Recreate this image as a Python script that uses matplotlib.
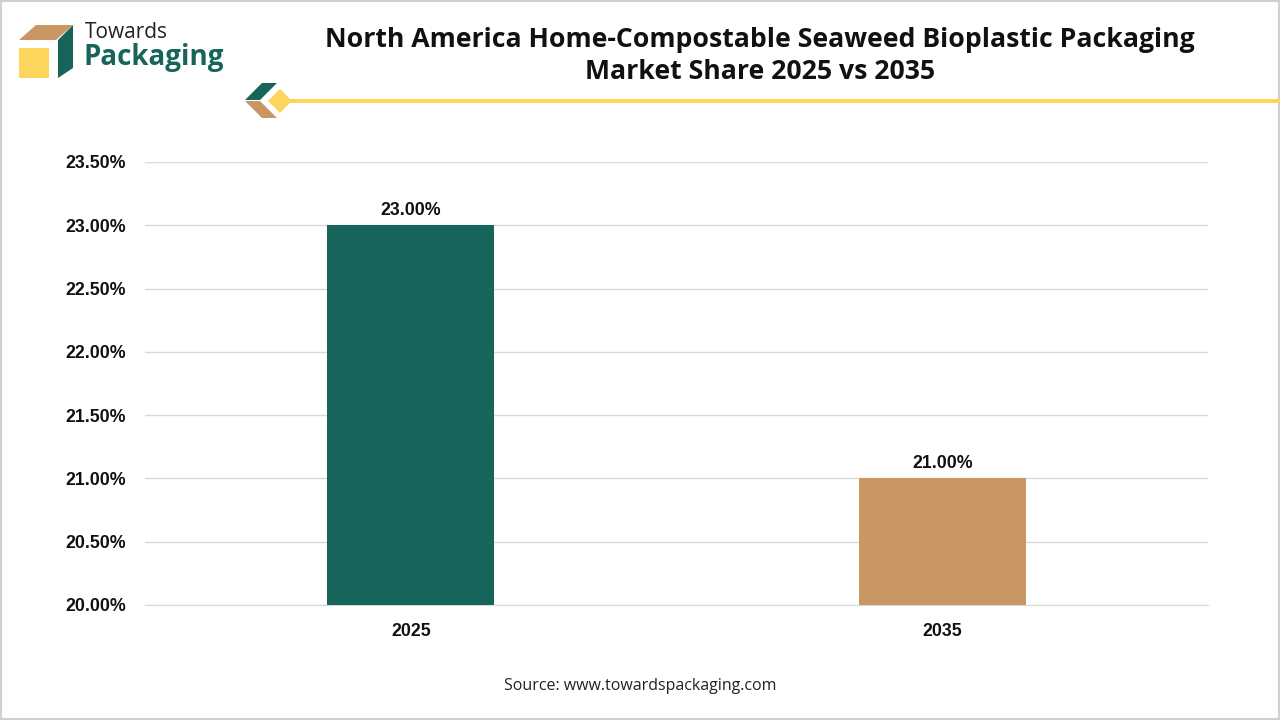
import matplotlib
matplotlib.use("Agg")
import matplotlib.pyplot as plt
from matplotlib.patches import Polygon, Rectangle
from matplotlib.ticker import FuncFormatter, MultipleLocator

categories = ["2025", "2035"]
values = [23.00, 21.00]
colors = ["#17655A", "#C89763"]
title = "North America Home-Compostable Seaweed Bioplastic Packaging\nMarket Share 2025 vs 2035"
source = "Source: www.towardspackaging.com"

W, H = 1280, 720
fig = plt.figure(figsize=(12.8, 7.2), dpi=100)
fig.patch.set_facecolor("white")

def fx(px):
    return px / W

def fy(py):
    return 1 - py / H

ax = fig.add_axes([fx(145), fy(605), fx(1208) - fx(145), fy(162) - fy(605)])
x = range(len(categories))
bars = ax.bar(x, values, width=0.314, color=colors, zorder=3)
ax.set_xlim(-0.5, 1.5)
ax.set_ylim(20.0, 23.5)
ax.yaxis.set_major_locator(MultipleLocator(0.5))
ax.yaxis.set_major_formatter(FuncFormatter(lambda v, p: f"{v:.2f}%"))
ax.set_xticks(list(x))
ax.set_xticklabels(categories)
ax.grid(axis="y", color="#D9D9D9", linewidth=1, zorder=0)
for s in ax.spines.values():
    s.set_visible(False)
ax.spines["bottom"].set_visible(True)
ax.spines["bottom"].set_color("#D9D9D9")
ax.tick_params(axis="both", length=0, labelsize=12.8)
ax.tick_params(axis="y", pad=13.5)
ax.tick_params(axis="x", pad=13)
for lab in ax.get_xticklabels() + ax.get_yticklabels():
    lab.set_fontfamily("Liberation Sans")
    lab.set_fontweight("bold")
    lab.set_color("#111111")
for b, v in zip(bars, values):
    ax.annotate(f"{v:.2f}%", (b.get_x() + b.get_width() / 2, v), xytext=(0, 4.5),
                textcoords="offset points", ha="center", va="bottom",
                fontsize=12.8, fontweight="bold", fontfamily="Liberation Sans", color="#111111")

# Title
fig.text(fx(760), fy(56), title, ha="center", va="center", fontsize=19.2,
         fontweight="bold", fontfamily="Open Sans", color="#111111", linespacing=1.3)

# Source
fig.text(0.5, fy(686), source, ha="center", va="center", fontsize=11.5,
         fontfamily="Open Sans", color="#222222")

# Border
fig.add_artist(Rectangle((fx(1), fy(719)), fx(1278), 1 - 2 / H, transform=fig.transFigure,
                         fill=False, edgecolor="#D0D0D0", linewidth=1.5))

# Logo
def poly(pts, color):
    fig.add_artist(Polygon([(fx(a), fy(b)) for a, b in pts], closed=True,
                           transform=fig.transFigure, facecolor=color, edgecolor="none"))

poly([(19, 48), (49, 48), (49, 78), (19, 78)], "#FDD45C")
poly([(19, 40), (36, 25), (73, 25), (56, 40)], "#C89763")
poly([(58, 40), (73, 25), (73, 68), (58, 78)], "#17655A")
fig.text(fx(85), fy(32), "Towards", ha="left", va="center", fontsize=15,
         fontfamily="Open Sans", color="#222222")
fig.text(fx(84), fy(58), "Packaging", ha="left", va="center", fontsize=20,
         fontweight="bold", fontfamily="Open Sans", color="#17655A")

# Decoration
poly([(245, 100), (262, 83), (277, 83), (260, 100)], "#17655A")
poly([(245, 101), (260, 101), (277, 118), (262, 118)], "#C89763")
poly([(268, 101), (280, 89), (292, 101), (280, 113)], "#FDD45C")
fig.add_artist(Rectangle((fx(288), fy(103)), fx(1280 - 288), 4 / H, transform=fig.transFigure,
                         facecolor="#FDD45C", edgecolor="none"))

fig.savefig("out.png", dpi=100, facecolor="white")
